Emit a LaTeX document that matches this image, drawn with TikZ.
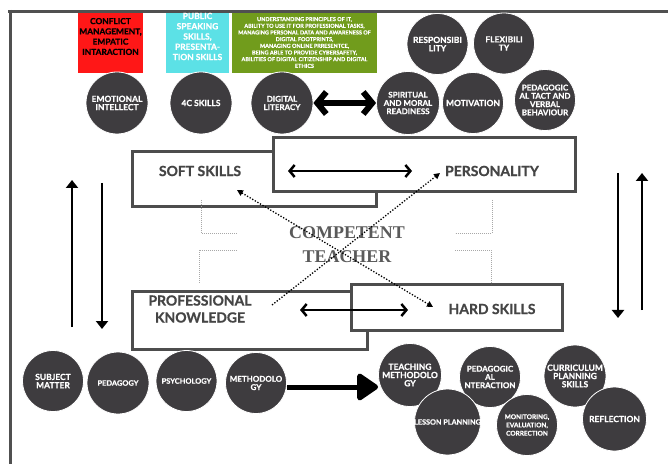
\documentclass[tikz,border=0pt]{standalone}
\usepackage{fontspec}
\setmainfont{Lato}[BoldFeatures={FakeBold=0.8}]
\newfontfamily\serifb{Liberation Serif}
\usetikzlibrary{arrows.meta}
\definecolor{discgray}{HTML}{3E3C3F}
\definecolor{framegray}{HTML}{505050}
\definecolor{cred}{HTML}{FF1717}
\definecolor{ccyan}{HTML}{5CE1E6}
\definecolor{cgreen}{HTML}{719C1C}
\definecolor{boxline}{HTML}{4D4D4D}
\definecolor{boxtext}{HTML}{454545}
\definecolor{ctgray}{HTML}{5A5A5A}
\definecolor{bracketgray}{HTML}{A8A8A8}
\begin{document}
\begin{tikzpicture}[x=1bp,y=-1bp,
  disc/.style={circle, fill=discgray, draw=white, line width=0.8bp, minimum size=#1, inner sep=0pt},
  ctxt/.style={text=white, font=\bfseries\fontsize{#1}{8.3}\selectfont, align=center, inner sep=0pt},
  ctxt/.default=8.5,
  topbox/.style={minimum width=#1, minimum height=60bp, inner sep=0pt},
  bx/.style={draw=boxline, line width=3bp, fill=white, inner sep=0pt},
  bxtxt/.style={text=boxtext, font=\bfseries\fontsize{14}{17}\selectfont, align=center, inner sep=0pt},
  dblarrow/.style={line width=2.5bp, {Straight Barb[length=5bp,width=12bp]}-{Straight Barb[length=5bp,width=12bp]}},
  bigdbl/.style={line width=6bp, {Straight Barb[length=9bp,width=22bp]}-{Straight Barb[length=9bp,width=22bp]}},
  sidearrow/.style={line width=2.5bp, -{Triangle[length=8bp,width=12bp]}},
  bigarrow/.style={line width=5bp, -{Triangle[length=23bp,width=30bp,round]}},
  dotarrow/.style={line width=1.3bp, dash pattern=on 1.3bp off 1.7bp},
  bracket/.style={bracketgray, line width=0.8bp, dash pattern=on 0.8bp off 1.2bp},
  framestyle/.style={framegray, line width=3bp}
]
\useasboundingbox (0,0) rectangle (668,464);
\fill[white] (0,0) rectangle (668,464);

% frame
\draw[framestyle] (8,11.5) -- (668,11.5);
\draw[framestyle] (10.5,10) -- (10.5,464);

% top coloured boxes
\node[topbox=65bp, fill=cred] (red) at (110.5,43) {};
\node[text=black, font=\bfseries\fontsize{8.4}{10.3}\selectfont, align=center, inner sep=0pt] (redtxt) at (110.5,36.5)
  {CONFLICT\\MANAGEMENT,\\EMPATIC\\INTARACTION};
\node[topbox=63bp, fill=ccyan] (cyan) at (197.5,43) {};
\node[text=white, font=\bfseries\fontsize{8.5}{10.3}\selectfont, align=center, inner sep=0pt] (cyantxt) at (197.5,36.5)
  {PUBLIC\\SPEAKING\\SKILLS,\\PRESENTA-\\TION SKILLS};
\node[topbox=145bp, fill=cgreen] (green) at (304.5,43) {};
\node[text=white, font=\bfseries\fontsize{5.5}{6.7}\selectfont, align=center, inner sep=0pt] (greentxt) at (304.5,42.5)
  {UNDERSTANDING PRINCIPLES OF IT,\\ABILITY TO USE IT FOR PROFESSIONAL TASKS,\\MANAGING PERSONAL DATA AND AWARENESS OF\\DIGITAL FOOTPRINTS,\\MANAGING ONLINE PRRESENTCE,\\BEING ABLE TO PROVIDE CYBERSAFETY,\\ABILITIES OF DIGITAL CITIZENSHIP AND DIGITAL\\ETHICS};

% top circles
\node[disc=62bp] (emo) at (117,103) {};
\node[ctxt] at (emo) {EMOTIONAL\\INTELLECT};
\node[disc=62bp] (fourc) at (201,103) {};
\node[ctxt] at (fourc) {4C SKILLS};
\node[disc=62bp] (dig) at (282,103) {};
\node[ctxt=8] at (dig) {DIGITAL\\LITERACY};
\node[disc=63bp] (spi) at (408,103) {};
\node[ctxt=8] at (spi) {SPIRITUAL\\AND MORAL\\READINESS};
\node[disc=61bp] (mot) at (473,103) {};
\node[ctxt] at (mot) {MOTIVATION};
\node[disc=61bp] (pedt) at (545,100) {};
\node[ctxt=8] at (pedt) {PEDAGOGIC\\AL TACT AND\\VERBAL\\BEHAVIOUR};
\node[disc=61bp] (resp) at (437.5,44) {};
\node[ctxt] at (resp) {RESPONSIBI\\LITY};
\node[disc=61bp] (flex) at (504,43.5) {};
\node[ctxt] at (flex) {FLEXIBILI\\TY};

\draw[bigdbl] (dig) -- (spi);

% central boxes
\node[bx, minimum width=244bp, minimum height=55bp] (softbox) at (254,179.5) {};
\node[bx, minimum width=302bp, minimum height=54bp] (persbox) at (424,165) {};
\node[bxtxt] (soft) at (200,171) {SOFT SKILLS};
\node[bxtxt] (pers) at (492,171) {PERSONALITY};
\node[bx, minimum width=235bp, minimum height=57bp] (profbox) at (249.5,320.5) {};
\node[bx, minimum width=211bp, minimum height=45bp] (hardbox) at (456.5,307.5) {};
\node[bxtxt] (prof) at (200,309) {PROFESSIONAL\\KNOWLEDGE};
\node[bxtxt] (hard) at (492,309) {HARD SKILLS};

\coordinate (pa) at (288,171);
\coordinate (pb) at (412,171);
\draw[dblarrow] (pa) -- (pb);
\coordinate (ha) at (300,310);
\coordinate (hb) at (408,310);
\draw[dblarrow] (ha) -- (hb);

% dotted brackets
\draw[bracket] (201,200) -- (201,233) -- (237,233);
\draw[bracket] (237,250) -- (199.5,250) -- (199.5,284);
\draw[bracket] (492,200) -- (492,233) -- (455,233);
\draw[bracket] (455,250) -- (491,250) -- (491,284);

% centre title
\node[text=ctgray, font=\serifb\bfseries\fontsize{18}{24}\selectfont, align=center, inner sep=0pt] (ct) at (347,245)
  {COMPETENT\\TEACHER};

% dotted crossing arrows
\coordinate (da1) at (272,305);
\coordinate (db1) at (440,173);
\draw[dotarrow, -{Triangle[length=6bp,width=6bp]}] (da1) -- (db1);
\coordinate (da2) at (433,307);
\coordinate (db2) at (237,190);
\draw[dotarrow, {Triangle[length=6bp,width=6bp]}-{Triangle[length=6bp,width=6bp]}] (db2) -- (da2);

% side arrows
\coordinate (lu1) at (72,327);
\coordinate (lu2) at (72,180);
\draw[sidearrow] (lu1) -- (lu2);
\coordinate (ld1) at (102,183);
\coordinate (ld2) at (102,329);
\draw[sidearrow] (ld1) -- (ld2);
\coordinate (rd1) at (618,173);
\coordinate (rd2) at (618,318);
\draw[sidearrow] (rd1) -- (rd2);
\coordinate (ru1) at (642,310);
\coordinate (ru2) at (642,173);
\draw[sidearrow] (ru1) -- (ru2);

% bottom circles
\node[disc=61bp] (subj) at (53,381) {};
\node[ctxt] at (subj) {SUBJECT\\MATTER};
\node[disc=62bp] (pedag) at (118,383) {};
\node[ctxt=7.5] at (pedag) {PEDAGOGY};
\node[disc=61bp] (psy) at (186.5,381) {};
\node[ctxt=7.5] at (psy) {PSYCHOLOGY};
\node[disc=61bp] (meth) at (256,383) {};
\node[ctxt=8] at (meth) {METHODOLO\\GY};

\node[disc=63bp] (tm) at (410,375) {};
\node[ctxt] at (tm) {TEACHING\\METHODOLO\\GY};
\node[disc=61bp] (pi) at (490,377) {};
\node[ctxt=8] at (pi) {PEDAGOGIC\\AL\\NTERACTION};
\node[disc=62bp] (cps) at (575,376) {};
\node[ctxt] at (cps) {CURRICULUM\\PLANNING\\SKILLS};
\node[disc=66bp] (lp) at (447.5,422) {};
\node[ctxt=7.3] at (lp) {LESSON PLANNING};
\node[disc=61bp] (mon) at (527,425) {};
\node[ctxt=6.5] at (mon) {MONITORING,\\EVALUATION,\\CORRECTION};
\node[disc=64bp] (refl) at (614.5,419) {};
\node[ctxt] at (refl) {REFLECTION};

\draw[bigarrow] ([yshift=-4bp]meth.east) -- ([yshift=-4bp]meth.east -| tm.west);
\end{tikzpicture}
\end{document}
